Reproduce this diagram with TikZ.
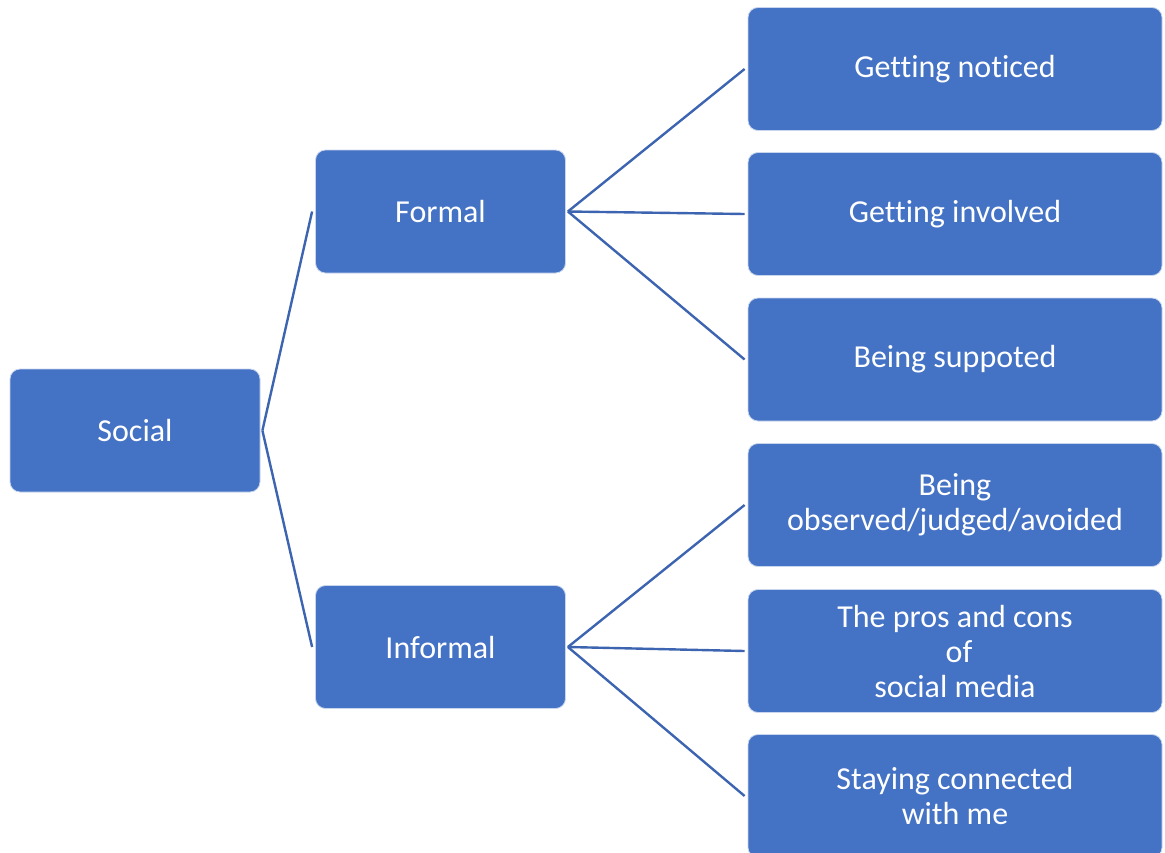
\documentclass[tikz,border=0pt]{standalone}
\usepackage{fontspec}
\setmainfont[Ligatures=NoCommon]{Carlito}
\definecolor{boxblue}{HTML}{4472C4}
\definecolor{lineblue}{HTML}{3C64B1}
\begin{document}
\begin{tikzpicture}[x=1pt,y=-1pt,
  box/.style={rectangle, rounded corners=10pt, fill=boxblue, draw=white!70!boxblue, line width=0.8pt,
    text=white, align=center, minimum height=123pt, inner sep=0pt,
    font=\fontsize{32}{35}\selectfont},
  leftbox/.style={box, minimum width=250pt},
  rightbox/.style={box, minimum width=414pt},
  conn/.style={draw=lineblue, line width=2.4pt}]
\useasboundingbox (0,0) rectangle (1165,852);
\clip (0,0) rectangle (1165,852);
\node[leftbox] (social) at (135,430.5) {Social};
\node[leftbox] (formal) at (440.5,211.5) {Formal};
\node[leftbox] (informal) at (440.5,647) {Informal};
\node[rightbox] (r1) at (955,69) {Getting noticed};
\node[rightbox] (r2) at (955,214) {Getting involved};
\node[rightbox] (r3) at (955,359.5) {Being suppoted};
\node[rightbox] (r4) at (955,505) {Being\\observed/judged/avoided};
\node[rightbox] (r5) at (955,651) {The pros and cons\\\hspace*{8pt}of\\social media};
\node[rightbox] (r6) at (955,796) {Staying connected\\with me};
\draw[conn] ([xshift=2pt]social.east) -- ([xshift=-3pt]formal.west);
\draw[conn] ([xshift=2pt]social.east) -- ([xshift=-3pt]informal.west);
\draw[conn] ([xshift=2pt]formal.east) -- ([xshift=-3pt]r1.west);
\draw[conn] ([xshift=2pt]formal.east) -- ([xshift=-3pt]r2.west);
\draw[conn] ([xshift=2pt]formal.east) -- ([xshift=-3pt]r3.west);
\draw[conn] ([xshift=2pt]informal.east) -- ([xshift=-3pt]r4.west);
\draw[conn] ([xshift=2pt]informal.east) -- ([xshift=-3pt]r5.west);
\draw[conn] ([xshift=2pt]informal.east) -- ([xshift=-3pt]r6.west);
\end{tikzpicture}
\end{document}
